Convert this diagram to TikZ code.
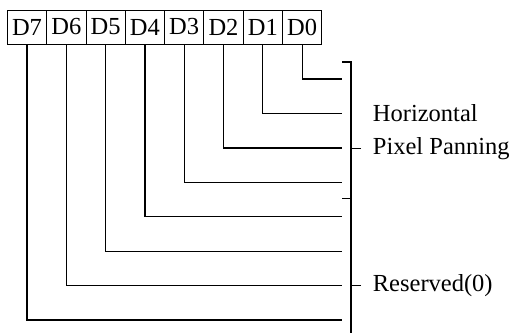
\documentclass[tikz,border=0pt]{standalone}
\usepackage{fontspec}
\setmainfont{Liberation Serif}
\usetikzlibrary{positioning,calc}

\begin{document}
\begin{tikzpicture}[
  x=1pt, y=-1pt,
  bitbox/.style={
    rectangle, draw=black, line width=0.9pt,
    minimum width=39.3pt, minimum height=34pt,
    inner sep=0pt, outer sep=0pt,
    font=\fontsize{24.5}{29}\selectfont},
  wire/.style={line width=1.2pt, color=black},
  lbl/.style={inner sep=0pt, font=\fontsize{24.5}{29}\selectfont}
]
  \useasboundingbox (0,0) rectangle (514,333);
  % register bits
  \node[bitbox](d7) at (27,27){D7};
  \node[bitbox, right=0pt of d7](d6){D6};
  \node[bitbox, right=0pt of d6](d5){D5};
  \node[bitbox, right=0pt of d5](d4){D4};
  \node[bitbox, right=0pt of d4](d3){D3};
  \node[bitbox, right=0pt of d3](d2){D2};
  \node[bitbox, right=0pt of d2](d1){D1};
  \node[bitbox, right=0pt of d1](d0){D0};
  % line ends
  \coordinate (e0) at (342,79);
  \coordinate (e1) at (342,113.4);
  \coordinate (e2) at (342,147.9);
  \coordinate (e3) at (342,182.3);
  \coordinate (e4) at (342,216.7);
  \coordinate (e5) at (342,251.2);
  \coordinate (e6) at (342,285.6);
  \coordinate (e7) at (342,320);
  \draw[wire](d0.south) |- (e0);
  \draw[wire](d1.south) |- (e1);
  \draw[wire](d2.south) |- (e2);
  \draw[wire](d3.south) |- (e3);
  \draw[wire](d4.south) |- (e4);
  \draw[wire](d5.south) |- (e5);
  \draw[wire](d6.south) |- (e6);
  \draw[wire](d7.south) |- (e7);
  % brackets
  \coordinate (btop) at (342,62);
  \coordinate (bmid) at (342,198.5);
  \coordinate (bend) at (351,333);
  \draw[wire](btop) -| (bend);
  \draw[wire](bmid) -- ++(9,0);
  % labels
  \node[lbl, anchor=base west](hor) at (372.7,121.7){Horizontal};
  \node[lbl, anchor=base west](pix) at (372.7,154){Pixel Panning};
  \node[lbl, anchor=base west](res) at (372.7,291.5){Reserved(0)};
  \draw[wire]([xshift=-11.5pt]pix.west) -- ++(-10,0);
  \draw[wire]([xshift=-11.5pt]res.west) -- ++(-10,0);
\end{tikzpicture}
\end{document}
